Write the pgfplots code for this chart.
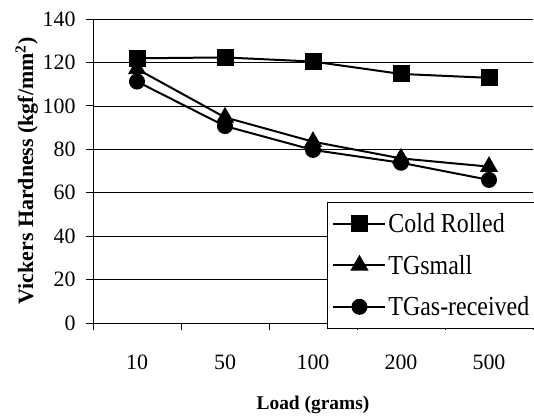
\documentclass[border=0pt]{standalone}
\usepackage{pgfplots}
\pgfplotsset{compat=1.18}
\usepackage{fontspec}
\setmainfont{Liberation Serif}
\newcommand{\tall}[1]{\scalebox{1}[1.15]{#1}}

\begin{document}
\begin{tikzpicture}
\begin{axis}[
    scale only axis,
    width=440bp, height=304bp,
    xmin=-0.5, xmax=4.5,
    ymin=0, ymax=140,
    axis x line*=bottom, axis y line*=left,
    axis line style={-, black, line width=0.8bp},
    xtick={0,1,2,3,4},
    xticklabels={10,50,100,200,500},
    minor xtick={-0.5,0.5,1.5,2.5,3.5,4.5},
    major x tick style={draw=none},
    ytick={0,20,...,140},
    ymajorgrids,
    major grid style={black, line width=0.6bp},
    tick align=outside,
    major tick length=7bp, minor tick length=7bp,
    tick style={black, line width=0.8bp},
    tick label style={font=\fontsize{22}{22}\selectfont},
    xticklabel style={yshift=-21bp},
    yticklabel style={xshift=-7bp},
    /pgf/number format/assume math mode=true,
    xlabel={\textbf{Load (grams)}},
    xlabel style={at={(axis description cs:0.5,0)}, anchor=base, yshift=-86bp,
        font=\fontsize{19.5}{19.5}\selectfont},
    ylabel={\textbf{Vickers Hardness (kgf/mm\textsuperscript{2})}},
    ylabel style={at={(axis description cs:-0.136,0.5)}, anchor=base,
        font=\fontsize{22}{22}\selectfont},
    legend style={at={(axis description cs:0.532,0.398)}, anchor=north west,
        draw=black, line width=0.8bp, font=\fontsize{24}{24}\selectfont,
        row sep=17bp, inner xsep=5bp, inner ysep=9bp},
    legend cell align=left,
    legend image code/.code={
        \draw[mark repeat=2, mark phase=2, #1]
            plot coordinates {(0bp,0bp) (26bp,0bp) (52bp,0bp)};
    },
    clip=false,
]
\addplot[black, line width=2bp, mark=square*, mark size=7.5bp, mark options={solid, fill=black}] coordinates {
    (0,121.9) (1,122.3) (2,120.4) (3,114.7) (4,112.9)
};
\addplot[black, line width=2bp, mark=triangle*, mark size=8.5bp, mark options={solid, fill=black}] coordinates {
    (0,117.0) (1,94.7) (2,83.5) (3,75.8) (4,72.0)
};
\addplot[black, line width=2bp, mark=*, mark size=7bp, mark options={solid, fill=black}] coordinates {
    (0,111.2) (1,90.7) (2,79.7) (3,73.8) (4,65.9)
};
\legend{\tall{Cold Rolled}, \tall{TGsmall}, \tall{TGas-received}}
\end{axis}
\pgfresetboundingbox
\path ([shift={(-93bp,-93bp)}]current axis.south west) rectangle ([shift={(1bp,19bp)}]current axis.north east);
\end{tikzpicture}
\end{document}
